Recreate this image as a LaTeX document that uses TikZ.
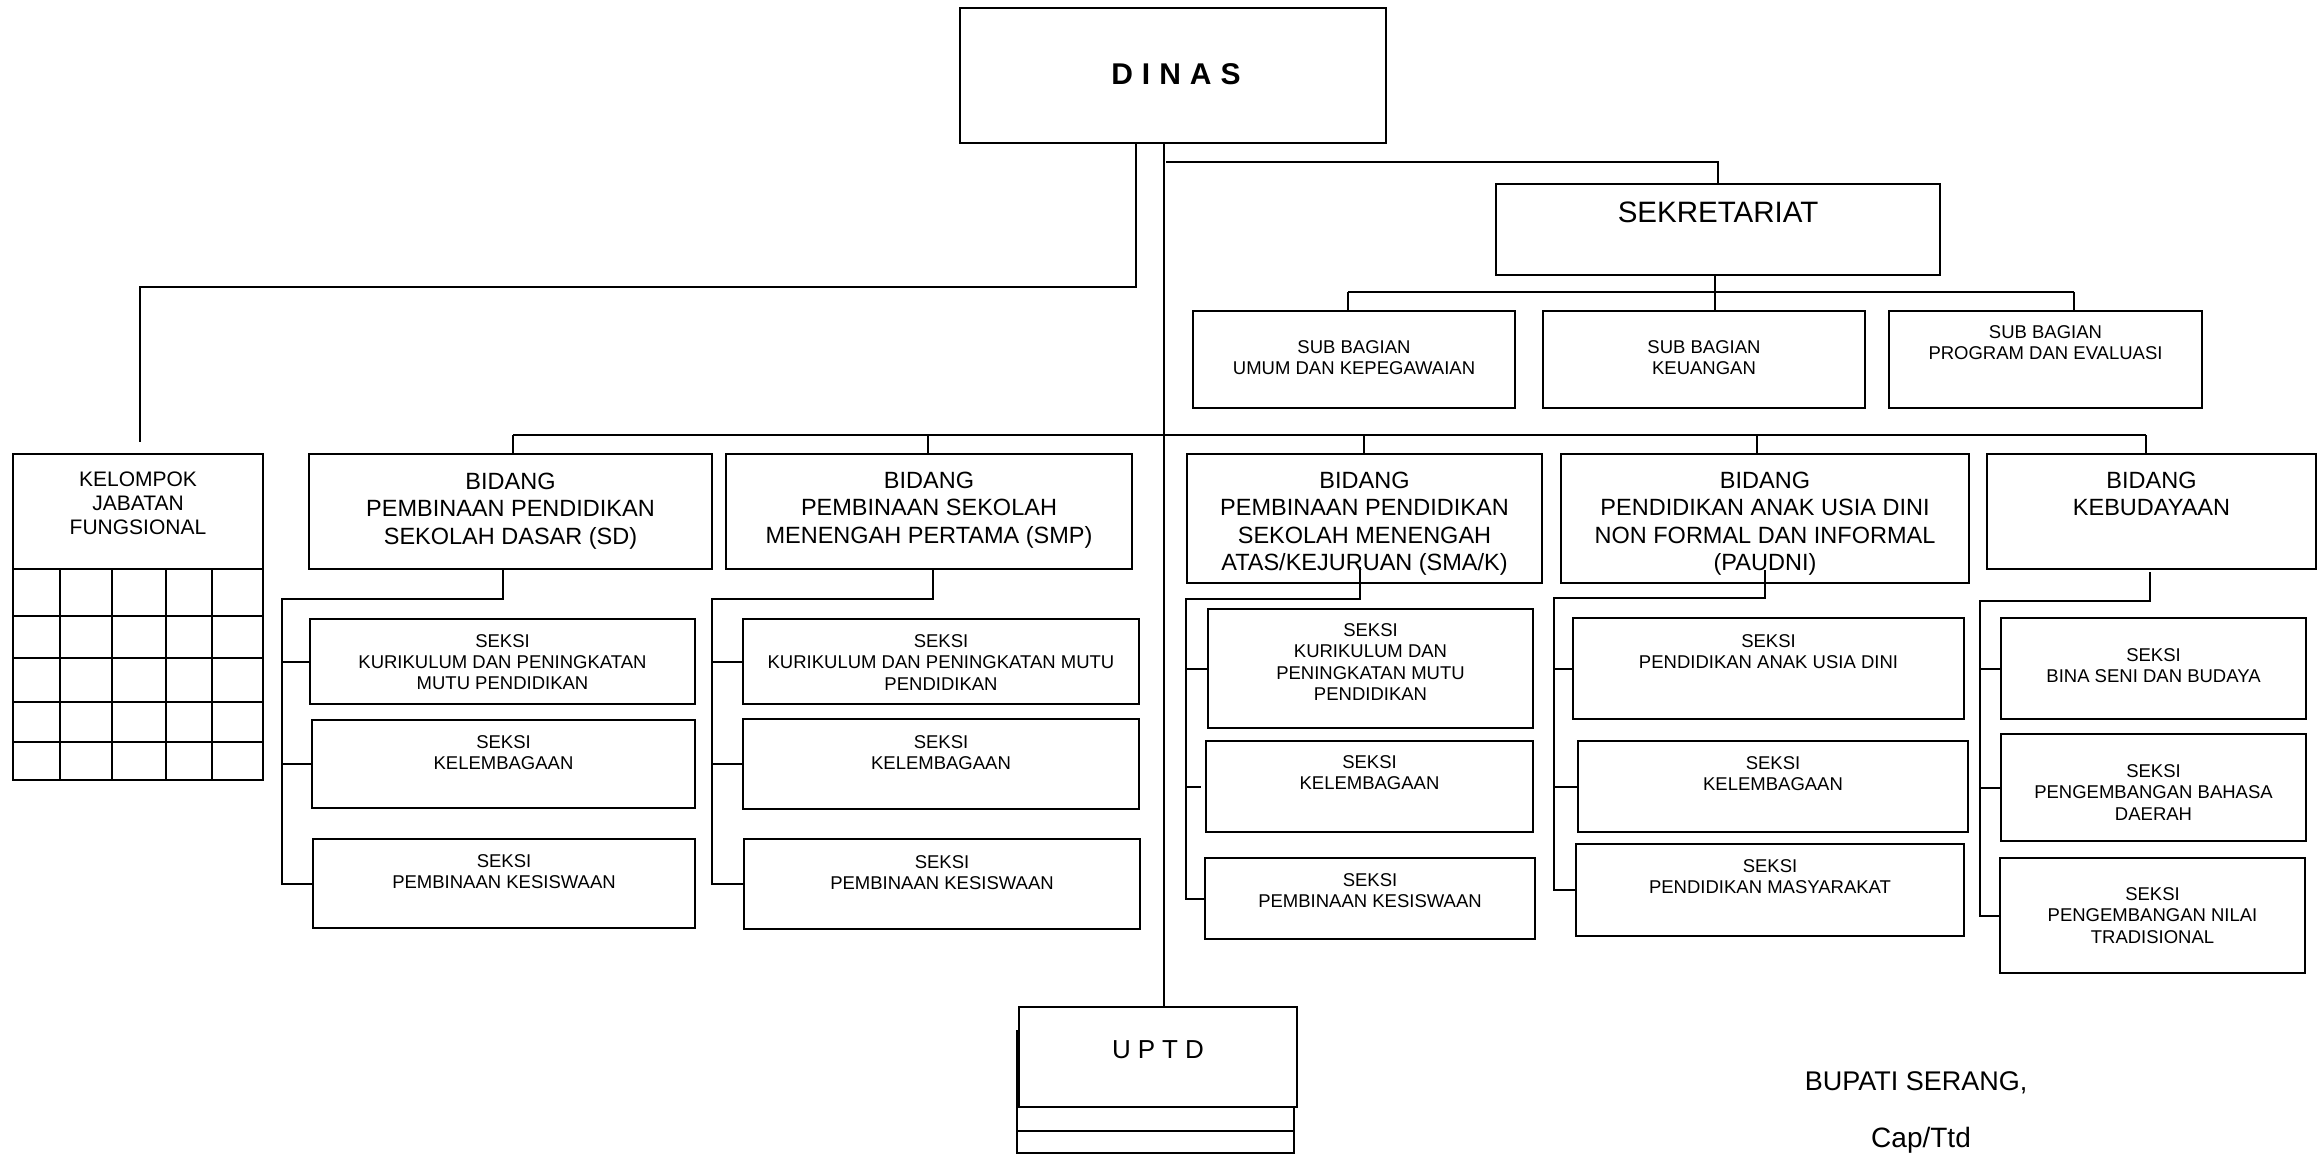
\documentclass[tikz,border=0pt]{standalone}
\usepackage{fontspec}
\setmainfont{Liberation Sans}

% type sizes used in the chart
\newcommand\FBid{\fontsize{23.5}{27.5}\selectfont}
\newcommand\FSek{\fontsize{18.5}{21.3}\selectfont}
\newcommand\FKjf{\fontsize{21}{24}\selectfont}
\newcommand\FSekr{\fontsize{29.5}{34}\selectfont}
\newcommand\FDinas{\bfseries\fontsize{30}{34}\selectfont}
\newcommand\FUptd{\fontsize{26}{30}\selectfont}

% #1 name, #2 left, #3 top, #4 width, #5 height, #6 first baseline below top, #7 font, #8 text
\newcommand\OrgBox[8]{%
  \node[orgbox, minimum width=#4pt, minimum height=#5pt] (#1) at (#2,#3)
    {\begin{minipage}[c][#5pt][t]{#4pt}\centering#7%
      \vspace*{\dimexpr#6pt-0.8em\relax}\rule{0pt}{0.8em}#8\end{minipage}};}

\begin{document}
\begin{tikzpicture}[x=1pt,y=-1pt,
  orgbox/.style={draw, line width=1.8pt, fill=white, inner sep=0pt, outer sep=0pt, anchor=north west},
  conn/.style={line width=2pt},
  bus/.style={line width=2.2pt},
  gridline/.style={line width=1.8pt},
  sign/.style={inner sep=0pt, anchor=base}]
\useasboundingbox (0,0) rectangle (2317,1155);

% ---------- top level ----------
\OrgBox{dinas}{960}{8}{426}{135}{77}{\FDinas}{\hspace{6pt}D\hspace{9pt}I\hspace{9pt}N\hspace{9pt}A\hspace{9pt}S}
\OrgBox{sek}{1496}{184}{444}{91}{39}{\FSekr}{SEKRETARIAT}
\OrgBox{sub1}{1193}{311}{322}{97}{42}{\FSek}{SUB BAGIAN\\UMUM DAN KEPEGAWAIAN}
\OrgBox{sub2}{1543}{311}{322}{97}{42}{\FSek}{SUB BAGIAN\\KEUANGAN}
\OrgBox{sub3}{1889}{311}{313}{97}{27.5}{\FSek}{SUB BAGIAN\\PROGRAM DAN EVALUASI}

% ---------- functional group with its table ----------
\OrgBox{kjf}{13}{454}{250}{326}{32}{\FKjf}{KELOMPOK\\JABATAN\\FUNGSIONAL}
\draw[gridline] (13,569) -- (263,569);
\foreach \gy in {616,658,702,742} \draw[gridline] (13,\gy) -- (263,\gy);
\foreach \gx in {60,112,166,212} \draw[gridline] (\gx,569) -- (\gx,780);

% ---------- divisions ----------
\OrgBox{bid1}{309}{454}{403}{115}{35}{\FBid}{BIDANG\\PEMBINAAN PENDIDIKAN\\SEKOLAH DASAR (SD)}
\OrgBox{bid2}{726}{454}{406}{115}{34}{\FBid}{BIDANG\\PEMBINAAN SEKOLAH\\MENENGAH PERTAMA (SMP)}
\OrgBox{bid3}{1187}{454}{355}{129}{34}{\FBid}{BIDANG\\PEMBINAAN PENDIDIKAN\\SEKOLAH MENENGAH\\ATAS/KEJURUAN (SMA/K)}
\OrgBox{bid4}{1561}{454}{408}{129}{34}{\FBid}{BIDANG\\PENDIDIKAN ANAK USIA DINI\\NON FORMAL DAN INFORMAL\\(PAUDNI)}
\OrgBox{bid5}{1987}{454}{329}{115}{34}{\FBid}{BIDANG\\KEBUDAYAAN}

% ---------- sections ----------
\OrgBox{sd1}{310}{619}{385}{85}{28}{\FSek}{SEKSI\\KURIKULUM DAN PENINGKATAN\\MUTU PENDIDIKAN}
\OrgBox{sd2}{312}{720}{383}{88}{28.6}{\FSek}{SEKSI\\KELEMBAGAAN}
\OrgBox{sd3}{313}{839}{382}{89}{28.6}{\FSek}{SEKSI\\PEMBINAAN KESISWAAN}

\OrgBox{smp1}{743}{619}{396}{85}{28.6}{\FSek}{SEKSI\\KURIKULUM DAN PENINGKATAN MUTU\\PENDIDIKAN}
\OrgBox{smp2}{743}{719}{396}{90}{29.6}{\FSek}{SEKSI\\KELEMBAGAAN}
\OrgBox{smp3}{744}{839}{396}{90}{29.6}{\FSek}{SEKSI\\PEMBINAAN KESISWAAN}

\OrgBox{sma1}{1208}{609}{325}{119}{27.6}{\FSek}{SEKSI\\KURIKULUM DAN\\PENINGKATAN MUTU\\PENDIDIKAN}
\OrgBox{sma2}{1206}{741}{327}{91}{27.6}{\FSek}{SEKSI\\KELEMBAGAAN}
\OrgBox{sma3}{1205}{858}{330}{81}{28.6}{\FSek}{SEKSI\\PEMBINAAN KESISWAAN}

\OrgBox{pa1}{1573}{618}{391}{101}{29.6}{\FSek}{SEKSI\\PENDIDIKAN ANAK USIA DINI}
\OrgBox{pa2}{1578}{741}{390}{91}{28.6}{\FSek}{SEKSI\\KELEMBAGAAN}
\OrgBox{pa3}{1576}{844}{388}{92}{28.6}{\FSek}{SEKSI\\PENDIDIKAN MASYARAKAT}

\OrgBox{kb1}{2001}{618}{305}{101}{43.6}{\FSek}{SEKSI\\BINA SENI DAN BUDAYA}
\OrgBox{kb2}{2001}{734}{305}{107}{43.6}{\FSek}{SEKSI\\PENGEMBANGAN BAHASA\\DAERAH}
\OrgBox{kb3}{2000}{858}{305}{115}{42.6}{\FSek}{SEKSI\\PENGEMBANGAN NILAI\\TRADISIONAL}

% ---------- technical units (stacked) ----------
\node[orgbox, minimum width=277pt, minimum height=100pt] (uptdA) at (1017,1031) {};
\node[orgbox, minimum width=277pt, minimum height=22pt] (uptdB) at (1017,1131) {};
\OrgBox{uptd}{1019}{1007}{278}{100}{51}{\FUptd}{U\hspace{7pt}P\hspace{7pt}T\hspace{7pt}D}

% ---------- signature ----------
\node[sign, font=\fontsize{27}{30}\selectfont] (bupati) at (1916,1090) {BUPATI SERANG,};
\node[sign, font=\fontsize{28}{30}\selectfont] (capttd) at (1921,1147) {Cap/Ttd};

% ---------- connectors ----------
\coordinate (trunkTop) at ([xshift=-9pt]dinas.south);
\draw[conn] (trunkTop) -- (trunkTop |- uptd.north);

\coordinate (sekJ) at (1166,162);
\draw[conn] (sekJ) -| (sek.north);

\coordinate (kjfA) at ([xshift=-37pt]dinas.south);
\coordinate (kjfB) at (140,287);
\coordinate (kjfEnd) at (140,442);
\draw[conn] (kjfA) |- (kjfB) -- (kjfEnd);

\coordinate (sbL) at (1348,292);
\coordinate (sbR) at (2074,292);
\draw[bus] (sbL) -- (sbR);
\draw[conn] (sbL) -- (sbL |- sub1.north);
\draw[conn] (sbR) -- (sbR |- sub3.north);
\coordinate (sekDrop) at ([xshift=-3pt]sek.south);
\draw[conn] (sekDrop) -- (sekDrop |- sub2.north);

\coordinate (bL) at (513,435);
\coordinate (bR) at (2146,435);
\coordinate (b2) at (928,435);
\coordinate (b3) at (1364,435);
\coordinate (b4) at (1757,435);
\draw[bus] (bL) -- (bR);
\draw[conn] (bL) -- (bL |- bid1.north);
\draw[conn] (b2) -- (b2 |- bid2.north);
\draw[conn] (b3) -- (b3 |- bid3.north);
\draw[conn] (b4) -- (b4 |- bid4.north);
\draw[conn] (bR) -- (bR |- bid5.north);

% SD
\coordinate (sdTop) at ([xshift=-7.5pt]bid1.south);
\coordinate (sdSp) at (282,599);
\draw[conn] (sdTop) |- (sdSp) -- (sdSp |- sd3.west) -- (sd3.west);
\draw[conn] (sdSp |- sd1.west) -- (sd1.west);
\draw[conn] (sdSp |- sd2.west) -- (sd2.west);

% SMP
\coordinate (smpTop) at ([xshift=3.5pt]bid2.south);
\coordinate (smpSp) at (712,599);
\draw[conn] (smpTop) |- (smpSp) -- (smpSp |- smp3.west) -- (smp3.west);
\draw[conn] (smpSp |- smp1.west) -- (smp1.west);
\draw[conn] (smpSp |- smp2.west) -- (smp2.west);

% SMA/K
\coordinate (smaTop) at ([shift={(-4.5pt,16pt)}]bid3.south);
\coordinate (smaSp) at (1186,599);
\coordinate (sma2T) at ([xshift=-5pt]sma2.west);
\draw[conn] (smaTop) |- (smaSp) -- (smaSp |- sma3.west) -- (sma3.west);
\draw[conn] (smaSp |- sma1.west) -- (sma1.west);
\draw[conn] (smaSp |- sma2T) -- (sma2T);

% PAUDNI
\coordinate (paTop) at ([yshift=13pt]bid4.south);
\coordinate (paSp) at (1554,598);
\draw[conn] (paTop) |- (paSp) -- (paSp |- pa3.west) -- (pa3.west);
\draw[conn] (paSp |- pa1.west) -- (pa1.west);
\draw[conn] (paSp |- pa2.west) -- (pa2.west);

% Kebudayaan
\coordinate (kbTop) at ([shift={(-1.5pt,-3pt)}]bid5.south);
\coordinate (kbSp) at (1980,601);
\draw[conn] (kbTop) |- (kbSp) -- (kbSp |- kb3.west) -- (kb3.west);
\draw[conn] (kbSp |- kb1.west) -- (kb1.west);
\draw[conn] (kbSp |- kb2.west) -- (kb2.west);

\end{tikzpicture}
\end{document}
